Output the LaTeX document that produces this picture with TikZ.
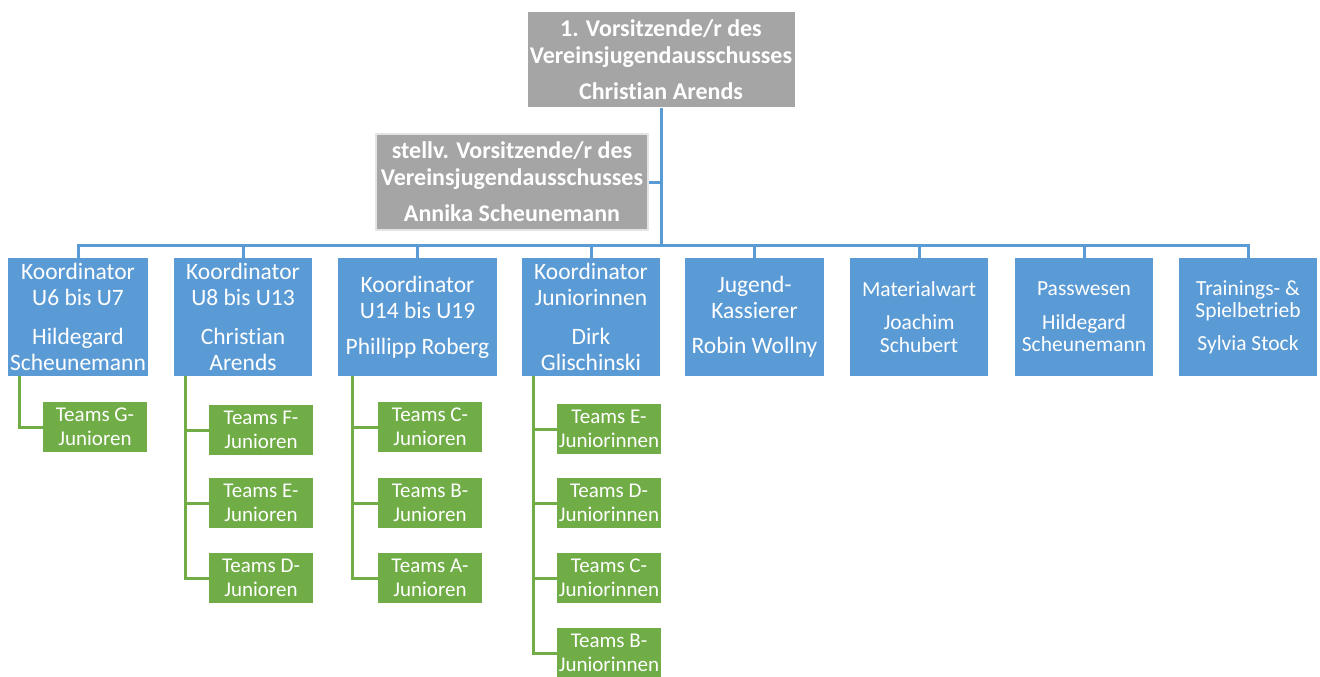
\documentclass[tikz,border=0pt]{standalone}
\usepackage{fontspec}
\setmainfont[Ligatures=NoCommon]{Carlito}
\usepackage{tikz}
\usetikzlibrary{calc}
\definecolor{board}{HTML}{A5A5A5}
\definecolor{staff}{HTML}{5B9BD5}
\definecolor{team}{HTML}{70AD47}
\tikzset{
  head/.style={fill=board, draw=white, line width=1pt, text=white, align=center, inner sep=0pt,
    font=\bfseries\fontsize{24}{27}\selectfont, minimum height=95pt},
  coord/.style={fill=staff, text=white, align=center, inner sep=0pt,
    font=\fontsize{23.5}{26}\selectfont, minimum width=138pt, minimum height=118pt},
  small/.style={font=\fontsize{21.5}{22.5}\selectfont},
  teambox/.style={fill=team, text=white, align=center, inner sep=0pt,
    font=\fontsize{21}{24}\selectfont, minimum width=104pt, minimum height=50pt},
  bus/.style={draw=staff, line width=3pt},
  twig/.style={draw=team, line width=3pt}
}
\begin{document}
\begin{tikzpicture}[x=1pt,y=-1pt]
  \useasboundingbox (0,0) rectangle (1320,677);

  % board
  \node[head, minimum width=268pt] (chair) at (661,59.5)
    {1. Vorsitzende/r des\\Vereinsjugendausschusses\\[9pt]Christian Arends};
  \node[head, draw=board!30, line width=2.5pt, minimum width=272pt, minimum height=96pt] (vice) at (512,182)
    {stellv. Vorsitzende/r des\\Vereinsjugendausschusses\\[9pt]Annika Scheunemann};

  % coordinators
  \node[coord, minimum width=140pt] (u6) at (78,317) {Koordinator\\U6 bis U7\\[13pt]Hildegard\\Scheunemann};
  \node[coord] (u8) at (243,317) {Koordinator\\U8 bis U13\\[13pt]Christian\\Arends};
  \node[coord, minimum width=159pt] (u14) at (417.5,317) {Koordinator\\U14 bis U19\\[10pt]Phillipp Roberg};
  \node[coord] (girls) at (591,317) {Koordinator\\Juniorinnen\\[13pt]Dirk\\Glischinski};
  \node[coord, minimum width=139pt] (cash) at (754.5,317) {Jugend-\\Kassierer\\[9pt]Robin Wollny};
  \node[coord, small] (gear) at (919,317) {Materialwart\\[11pt]Joachim\\Schubert};
  \node[coord, small] (pass) at (1084,317) {Passwesen\\[11pt]Hildegard\\Scheunemann};
  \node[coord, small] (play) at (1248,317) {Trainings- \&\\Spielbetrieb\\[10pt]Sylvia Stock};

  % teams
  \node[teambox] (tG) at (95,427) {Teams G-\\Junioren};
  \node[teambox] (tF) at (261,430) {Teams F-\\Junioren};
  \node[teambox] (tE) at (261,503) {Teams E-\\Junioren};
  \node[teambox] (tD) at (261,578) {Teams D-\\Junioren};
  \node[teambox] (tC) at (430,427) {Teams C-\\Junioren};
  \node[teambox] (tB) at (430,503) {Teams B-\\Junioren};
  \node[teambox] (tA) at (430,578) {Teams A-\\Junioren};
  \node[teambox] (wE) at (609,429) {Teams E-\\Juniorinnen};
  \node[teambox] (wD) at (609,503) {Teams D-\\Juniorinnen};
  \node[teambox] (wC) at (609,578) {Teams C-\\Juniorinnen};
  \node[teambox] (wB) at (609,653) {Teams B-\\Juniorinnen};

  % blue lines
  \coordinate (hub) at (661,245);
  \draw[bus] (chair.south) -- (hub);
  \draw[bus] (vice.east) -- (vice.east -| hub);
  \foreach \b in {u6,u8,u14,girls,cash,gear,pass,play}{
    \draw[bus] (hub) -| (\b.north);
  }

  % green lines
  \foreach \c/\off/\kids in {u6/12/{tG}, u8/12/{tF,tE,tD}, u14/15/{tC,tB,tA}, girls/12/{wE,wD,wC,wB}}{
    \coordinate (\c-stem) at ($(\c.south west)+(\off,0)$);
    \foreach \k in \kids{
      \draw[twig] (\c-stem) |- (\k.west);
    }
  }
\end{tikzpicture}
\end{document}
